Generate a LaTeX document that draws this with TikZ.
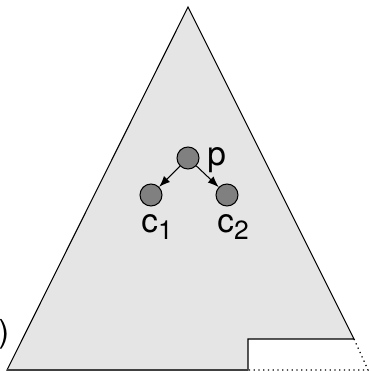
\documentclass[tikz,border=0pt]{standalone}
\usepackage{fontspec}
\setmainfont{TeX Gyre Heros}
\usetikzlibrary{arrows.meta}
\newcommand{\lowsub}[1]{\raisebox{-0.45ex}{\fontsize{15}{17}\selectfont #1}}

\begin{document}
\begin{tikzpicture}[x=0.02cm,y=-0.02cm,
  vtx/.style={circle,draw,line width=0.6pt,fill=black!50,minimum size=0.44cm,inner sep=0pt},
  lbl/.style={font=\fontsize{19}{21}\selectfont,inner sep=0pt},
  kid/.style={-{Latex[length=2.2mm,width=1.7mm]},line width=0.6pt}]
\useasboundingbox (0,0) rectangle (370,371);
% the tree with the missing corner cut off
\draw[fill=black!10,line width=0.6pt] (188,7) -- (354,339) -- (248,339) -- (248,370) -- (7,370) -- cycle;
\draw[black!75,line width=1.1pt] (7,370) -- (248,370);
\draw[dotted,line width=0.7pt] (354,339) -- (368,370) -- (248,370);
\node[lbl,font=\fontsize{18}{20}\selectfont] (paren) at (4,334) {)};
% parent and its two children
\node[vtx] (p) at (188,158) {};
\node[vtx] (c1) at (151,195) {};
\node[vtx] (c2) at (227,195) {};
\node[lbl,anchor=base west] (plbl) at (207,165) {p};
\node[lbl,anchor=base west] (c1lbl) at (141,232) {c\lowsub{1}};
\node[lbl,anchor=base west] (c2lbl) at (217,232) {c\lowsub{2}};
\draw[kid] (p) -- (c1);
\draw[kid] (p) -- (c2);
\end{tikzpicture}
\end{document}
